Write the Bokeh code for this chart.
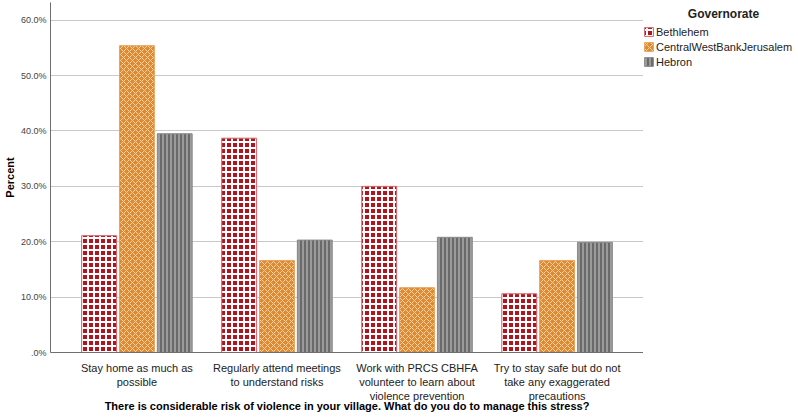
from bokeh.plotting import figure
from bokeh.layouts import row
from bokeh.models import (ColumnDataSource, FactorRange, Range1d, Legend, LegendItem, Label,
                          CustomJSTickFormatter, SingleIntervalTicker)
from bokeh.transform import dodge
from bokeh.embed import file_html
from bokeh.resources import INLINE

categories = [
    "Stay home as much as\npossible",
    "Regularly attend meetings\nto understand risks",
    "Work with PRCS CBHFA\nvolunteer to learn about\nviolence prevention",
    "Try to stay safe but do not\ntake any exaggerated\nprecautions",
]
series_names = ["Bethlehem", "CentralWestBankJerusalem", "Hebron"]
bethlehem = [21.1, 38.7, 30.0, 10.6]
central = [55.4, 16.6, 11.7, 16.6]
hebron = [39.5, 20.3, 20.8, 19.9]
legend_title = "Governorate"
x_title = "There is considerable risk of violence in your village. What do you do to manage this stress?"
y_title = "Percent"

source = ColumnDataSource(dict(cat=categories, Bethlehem=bethlehem,
                               CentralWestBankJerusalem=central, Hebron=hebron))

FONT = "Liberation Sans"

p = figure(width=643, height=418, output_backend="svg", toolbar_location=None,
           x_range=FactorRange(factors=categories, range_padding=0.0585),
           y_range=Range1d(0, 63.2),
           min_border_left=48, min_border_right=0, min_border_top=2, min_border_bottom=66)
p.outline_line_color = None
p.background_fill_color = "white"

styles = {
    "Bethlehem": dict(fill_color="#B0141C", hatch_pattern="+", hatch_color="white",
                      hatch_scale=6, hatch_weight=2, line_color="#D46A72"),
    "CentralWestBankJerusalem": dict(fill_color="#DE8A32", hatch_pattern="x", hatch_color="#F5D3AC",
                                     hatch_scale=6, hatch_weight=1, line_color="#E9A35A"),
    "Hebron": dict(fill_color="#6A6A6A", hatch_pattern="|", hatch_color="#ABABAB",
                   hatch_scale=4, hatch_weight=1.5, line_color="#8A8A8A"),
}
offsets = [-0.27, 0.0, 0.27]
for name, off in zip(series_names, offsets):
    p.vbar(x=dodge("cat", off, range=p.x_range), top=name, width=0.249, bottom=0,
           source=source, line_width=1, **styles[name])

# axes
p.xgrid.grid_line_color = None
p.ygrid.grid_line_color = "#C8C8C8"
p.ygrid.grid_line_width = 1
p.yaxis.ticker = SingleIntervalTicker(interval=10)
p.yaxis.formatter = CustomJSTickFormatter(code="return tick == 0 ? '.0%' : tick.toFixed(1) + '%';")
for ax in (p.xaxis, p.yaxis):
    ax.axis_line_color = "#6E6E6E"
    ax.major_tick_line_color = None
    ax.minor_tick_line_color = None
    ax.major_tick_out = 0
    ax.major_tick_in = 0
    ax.minor_tick_out = 0
    ax.minor_tick_in = 0
    ax.major_label_text_font = FONT
    ax.axis_label_text_font = FONT
    ax.axis_label_text_font_style = "bold"
    ax.axis_label_text_color = "black"
p.yaxis.major_label_text_font_size = "9px"
p.yaxis.major_label_text_color = "#444444"
p.yaxis.major_label_standoff = 4
p.yaxis.axis_label = y_title
p.yaxis.axis_label_text_font_size = "11px"
p.yaxis.axis_label_standoff = 2
p.xaxis.major_label_text_font_size = "11px"
p.xaxis.major_label_text_color = "#222222"
p.xaxis.major_label_standoff = 9
p.xaxis.axis_label = x_title
p.xaxis.axis_label_text_font_size = "11px"
p.xaxis.axis_label_standoff = -5

# legend panel (separate figure to the right, 1 data unit = 1 pixel)
p2 = figure(width=155, height=418, output_backend="svg", toolbar_location=None,
            x_range=Range1d(0, 155), y_range=Range1d(0, 418),
            min_border=0, min_border_left=0, min_border_right=0, min_border_top=0, min_border_bottom=0)
p2.xaxis.visible = False
p2.yaxis.visible = False
p2.outline_line_color = None
p2.grid.visible = False
proxies = []
for name in series_names:
    proxies.append(p2.vbar(x=[0], top=[0], width=1, line_width=1, visible=False, **styles[name]))

legend = Legend(items=[LegendItem(label=n, renderers=[r]) for n, r in zip(series_names, proxies)],
                location="top_left", padding=0, spacing=0, margin=0,
                glyph_width=11, glyph_height=11, label_height=15, label_standoff=2,
                label_text_font=FONT, label_text_font_size="11px", label_text_color="#222222",
                title=legend_title, title_text_font_size="1px", title_text_alpha=0, title_standoff=21,
                inactive_fill_alpha=0, border_line_color=None, background_fill_alpha=0)
p2.add_layout(legend, "center")
p2.add_layout(Label(x=80, y=404.5, text=legend_title,
                    text_align="center", text_baseline="middle", text_font=FONT,
                    text_font_size="12px", text_font_style="bold", text_color="#222222"))

layout = row(p, p2, spacing=0)
open("out.html", "w").write(file_html(layout, INLINE))
